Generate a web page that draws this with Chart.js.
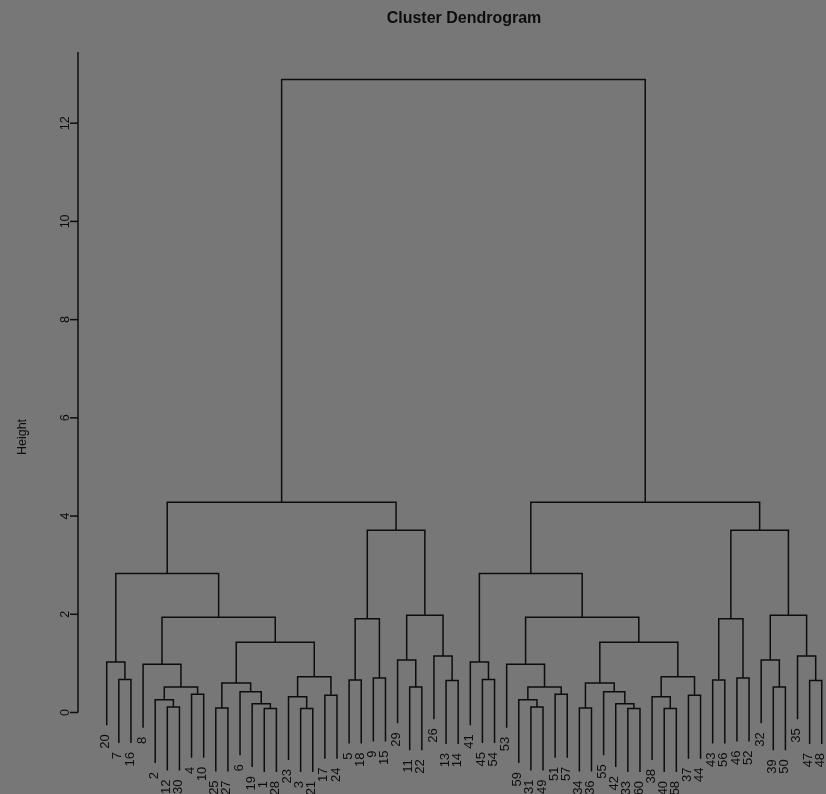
<!doctype html>
<html lang="en">
  <head>
    <meta charset="utf-8">
    <title>Cluster Dendrogram</title>
    <style>
      * {
        margin: 0;
        padding: 0;
      }
      body {
        background: #777777;
        overflow: hidden;
      }
      .chartBox {
        position: relative;
        width: 826px;
        height: 794px;
      }
    </style>
  </head>

  <body>
    <div class="chartBox">
      <canvas id="myChart"></canvas>
    </div>

    <script src="https://cdn.jsdelivr.net/npm/chart.js"></script>

    <script>
    // leaf labels in plotted order (left to right)
    const leafOrder = [
      20, 7, 16, 8, 2, 12, 30, 4, 10, 25, 27, 6, 19, 1, 28, 23, 3, 21, 17, 24,
      5, 18, 9, 15, 29, 11, 22, 26, 13, 14,
      41, 45, 54, 53, 59, 31, 49, 51, 57, 34, 36, 55, 42, 33, 60, 38, 40, 58, 37, 44,
      43, 56, 46, 52, 32, 39, 50, 35, 47, 48
    ];

    // merge table like R hclust: negative = leaf label, positive = earlier merge row (1-based)
    const merges = [
      [-12, -30], [-2, 1], [-4, -10], [2, 3], [-8, 4], [-7, -16], [-20, 6],
      [-25, -27], [-1, -28], [-19, 9], [-6, 10], [8, 11],
      [-3, -21], [-23, 13], [-17, -24], [14, 15], [12, 16], [5, 17], [7, 18],
      [-5, -18], [-9, -15], [20, 21], [-11, -22], [-29, 23], [-13, -14], [-26, 25],
      [24, 26], [22, 27], [19, 28],
      // right half
      [-31, -49], [-59, 30], [-51, -57], [31, 32], [-53, 33], [-45, -54], [-41, 35],
      [-34, -36], [-33, -60], [-42, 38], [-55, 39], [37, 40],
      [-40, -58], [-38, 42], [-37, -44], [43, 44], [41, 45], [34, 46], [36, 47],
      [-43, -56], [-46, -52], [49, 50], [-39, -50], [-32, 52], [-47, -48], [-35, 54],
      [53, 55], [51, 56], [48, 57],
      // root
      [29, 58]
    ];

    const leftHeights = [
      0.11, 0.26, 0.37, 0.52, 0.98, 0.67, 1.03,
      0.09, 0.08, 0.18, 0.42, 0.60,
      0.08, 0.32, 0.35, 0.73, 1.43, 1.94, 2.83,
      0.66, 0.70, 1.91, 0.52, 1.07, 0.65, 1.15,
      1.98, 3.71, 4.28
    ];
    const rightHeights = [
      0.11, 0.26, 0.37, 0.52, 0.98, 0.67, 1.03,
      0.09, 0.08, 0.18, 0.42, 0.60,
      0.08, 0.32, 0.35, 0.73, 1.43, 1.94, 2.83,
      0.66, 0.70, 1.91, 0.52, 1.07, 0.65, 1.15,
      1.98, 3.71, 4.28
    ];
    const rootHeight = 12.89;
    const heights = [...leftHeights, ...rightHeights, rootHeight];

    const yTicks = [0, 2, 4, 6, 8, 10, 12];
    const hang = 1.29; // leaves hang 10% of the max height below their parent

    const lineColor = '#0d0d0d';
    const textColor = '#0d0d0d';

    // build the U shaped segments
    const leafPos = {};
    leafOrder.forEach((l, i) => { leafPos[l] = i + 1; });
    const nodeX = [];
    const leafEnd = {};
    const datasets = [];

    merges.forEach(([a, b], i) => {
      const h = heights[i];
      const end = c => {
        if (c < 0) {
          leafEnd[-c] = h - hang;
          return { x: leafPos[-c], y: h - hang };
        }
        return { x: nodeX[c - 1], y: heights[c - 1] };
      };
      const l = end(a);
      const r = end(b);
      nodeX[i] = (l.x + r.x) / 2;
      datasets.push({
        data: [l, { x: l.x, y: h }, { x: r.x, y: h }, r],
        showLine: true,
        borderColor: lineColor,
        borderWidth: 1.5,
        pointRadius: 0,
        tension: 0
      });
    });

    // axis, labels and title drawn with the chart scales
    const dendroDecor = {
      id: 'dendroDecor',
      afterDatasetsDraw(chart) {
        const { ctx, scales: { x, y }, chartArea } = chart;
        ctx.save();
        ctx.strokeStyle = lineColor;
        ctx.fillStyle = textColor;
        ctx.lineWidth = 1.5;

        // y axis line
        const ax = chartArea.left;
        ctx.beginPath();
        ctx.moveTo(ax, chartArea.top);
        ctx.lineTo(ax, y.getPixelForValue(0));
        ctx.stroke();

        ctx.font = '12.5px "Liberation Sans", Arial, sans-serif';
        ctx.textAlign = 'center';
        ctx.textBaseline = 'middle';
        yTicks.forEach(t => {
          const py = y.getPixelForValue(t);
          ctx.beginPath();
          ctx.moveTo(ax - 8, py);
          ctx.lineTo(ax, py);
          ctx.stroke();
          ctx.save();
          ctx.translate(ax - 12, py);
          ctx.rotate(-Math.PI / 2);
          ctx.fillText(String(t), 0, 0);
          ctx.restore();
        });

        // axis title
        ctx.save();
        ctx.translate(23, 437);
        ctx.rotate(-Math.PI / 2);
        ctx.fillText('Height', 0, 0);
        ctx.restore();

        // leaf labels
        ctx.font = '13px "Liberation Sans", Arial, sans-serif';
        ctx.textAlign = 'right';
        leafOrder.forEach(l => {
          const px = x.getPixelForValue(leafPos[l]);
          const py = y.getPixelForValue(leafEnd[l]) + 9;
          ctx.save();
          ctx.translate(px - 1, py);
          ctx.rotate(-Math.PI / 2);
          ctx.fillText(String(l), 0, 0);
          ctx.restore();
        });

        // title
        ctx.font = 'bold 16px "Liberation Sans", Arial, sans-serif';
        ctx.textAlign = 'center';
        ctx.fillText('Cluster Dendrogram', 464, 19);
        ctx.restore();
      }
    };

    const config = {
      type: 'scatter',
      data: { datasets },
      options: {
        responsive: true,
        maintainAspectRatio: false,
        animation: false,
        layout: {
          padding: { left: 78, right: 0, top: 52, bottom: 0 }
        },
        plugins: {
          legend: { display: false },
          tooltip: { enabled: false }
        },
        scales: {
          x: { type: 'linear', display: false, min: -1.37, max: 60.35 },
          y: { type: 'linear', display: false, min: -1.66, max: 13.45 }
        }
      },
      plugins: [dendroDecor]
    };

    const myChart = new Chart(document.getElementById('myChart'), config);
    </script>
  </body>
</html>
